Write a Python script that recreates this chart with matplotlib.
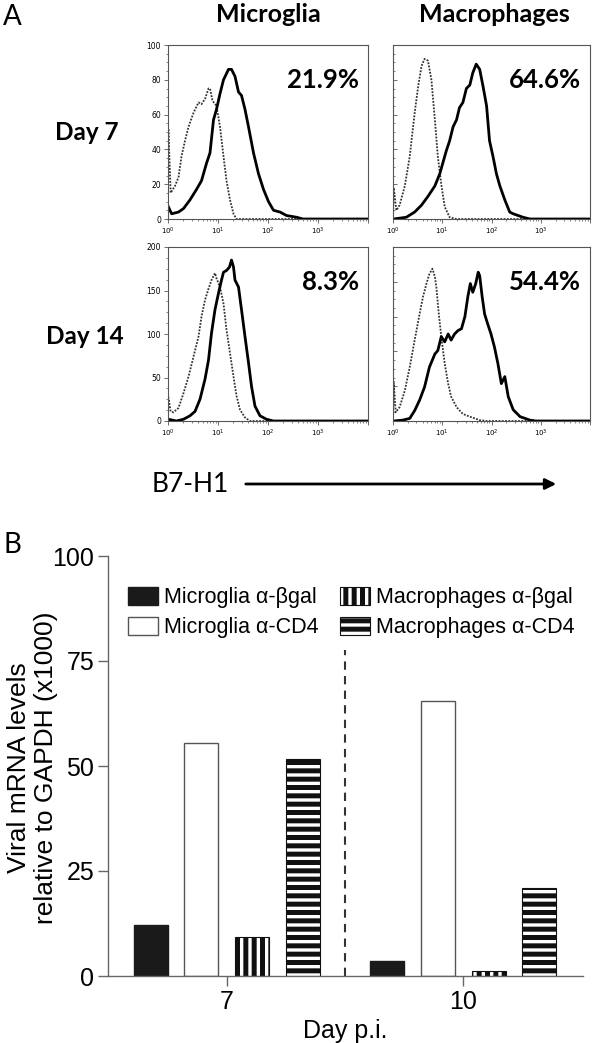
import matplotlib
matplotlib.use('Agg')
import matplotlib.pyplot as plt
import numpy as np
from matplotlib.ticker import FixedLocator, NullFormatter, MultipleLocator, AutoMinorLocator

plt.rcParams['hatch.linewidth'] = 3.6

# ---- panel A: flow histograms (x = log10 fluorescence, y = counts) ----
# dotted = control, solid = B7-H1 stain
mg7_ctrl_x = [0.0, 0.007, 0.053, 0.14, 0.21, 0.27, 0.34, 0.41, 0.51, 0.61, 0.67, 0.74, 0.81, 0.84,
              0.89, 0.97, 1.04, 1.11, 1.17, 1.24, 1.31, 1.37, 4.0]
mg7_ctrl_y = [0, 52, 15, 19, 24, 36, 45, 53, 61, 67, 66, 69, 75, 75, 68, 65, 53, 36, 22, 11, 3, 0, 0]
mg7_b7_x = [0.007, 0.073, 0.21, 0.31, 0.44, 0.57, 0.67, 0.77, 0.84, 0.91, 0.97, 1.04, 1.11, 1.21,
            1.27, 1.34, 1.41, 1.47, 1.54, 1.61, 1.71, 1.81, 1.91, 2.01, 2.11, 2.24, 2.37, 2.57, 2.7, 4.0]
mg7_b7_y = [7, 3, 4, 6, 11, 17, 22, 32, 38, 57, 63, 72, 80, 86, 86, 82, 73, 71, 63, 53, 38, 26, 17,
            10, 5, 4, 2, 1, 0, 0]

mac7_ctrl_x = [0.0, 0.014, 0.068, 0.135, 0.24, 0.34, 0.44, 0.51, 0.58, 0.64, 0.71, 0.78, 0.85, 0.91,
               0.98, 1.05, 1.15, 1.29, 4.0]
mac7_ctrl_y = [0, 18, 5, 8, 19, 36, 61, 76, 88, 92, 91, 80, 57, 36, 20, 7, 1, 0, 0]
mac7_b7_x = [0.014, 0.27, 0.44, 0.58, 0.71, 0.85, 0.95, 1.02, 1.08, 1.15, 1.22, 1.29, 1.35, 1.42,
             1.49, 1.56, 1.62, 1.69, 1.76, 1.83, 1.90, 1.96, 2.03, 2.10, 2.17, 2.27, 2.37, 2.44,
             2.64, 2.78, 4.0]
mac7_b7_y = [0, 1, 4, 8, 13, 19, 26, 33, 39, 45, 53, 57, 64, 67, 75, 77, 84, 89, 86, 76, 65, 45,
             36, 26, 19, 11, 4, 3, 1, 0, 0]

mg14_ctrl_x = [0.0, 0.007, 0.053, 0.107, 0.21, 0.31, 0.41, 0.51, 0.61, 0.67, 0.74, 0.81, 0.87, 0.94,
               0.97, 1.04, 1.11, 1.17, 1.24, 1.31, 1.37, 1.44, 1.54, 1.64, 4.0]
mg14_ctrl_y = [0, 27, 11, 10, 15, 32, 51, 74, 97, 120, 139, 152, 162, 170, 164, 154, 135, 105, 78,
               51, 29, 13, 4, 0, 0]
mg14_b7_x = [0.007, 0.17, 0.31, 0.44, 0.54, 0.64, 0.74, 0.81, 0.87, 0.94, 1.01, 1.07, 1.11, 1.17,
             1.23, 1.27, 1.31, 1.34, 1.41, 1.47, 1.54, 1.61, 1.67, 1.74, 1.84, 1.97, 2.11, 4.0]
mg14_b7_y = [2, 0, 2, 6, 11, 25, 48, 70, 101, 128, 147, 162, 171, 173, 177, 185, 177, 162, 154,
             128, 97, 67, 40, 17, 6, 2, 0, 0]

mac14_ctrl_x = [0.0, 0.014, 0.054, 0.135, 0.24, 0.34, 0.44, 0.54, 0.61, 0.68, 0.74, 0.80, 0.85,
                0.88, 0.93, 0.98, 1.05, 1.12, 1.18, 1.29, 1.42, 1.56, 1.76, 1.90, 4.0]
mac14_ctrl_y = [0, 45, 10, 16, 35, 62, 93, 123, 143, 158, 169, 175, 166, 154, 123, 97, 66, 43, 28,
                16, 8, 5, 1, 0, 0]
mac14_b7_x = [0.014, 0.20, 0.34, 0.44, 0.54, 0.64, 0.74, 0.85, 0.91, 0.98, 1.05, 1.12, 1.18, 1.25,
              1.32, 1.39, 1.46, 1.52, 1.57, 1.62, 1.68, 1.73, 1.76, 1.81, 1.86, 1.92, 1.99, 2.06,
              2.13, 2.20, 2.27, 2.34, 2.44, 2.58, 2.78, 2.9, 4.0]
mac14_b7_y = [0, 1, 3, 12, 24, 39, 62, 77, 81, 97, 91, 100, 93, 100, 104, 106, 120, 143, 158, 148,
              158, 171, 167, 143, 123, 112, 100, 85, 66, 43, 51, 28, 13, 5, 1, 0, 0]

percents = ['21.9%', '64.6%', '8.3%', '54.4%']

# ---- panel B: viral mRNA bars ----
days = ['7', '10']
series_labels = ['Microglia α-βgal', 'Microglia α-CD4', 'Macrophages α-βgal', 'Macrophages α-CD4']
mg_bgal = [12.2, 3.6]
mg_cd4 = [55.4, 65.4]
mac_bgal = [9.3, 1.3]
mac_cd4 = [51.7, 20.9]
divider_top = 77.6

W, H = 600, 1043
fig = plt.figure(figsize=(W / 100, H / 100), dpi=100)


def fx(px):
    return px / W


def fy(py):
    return 1 - py / H


def hist_ax(left, top, right, bottom, ymax, ystep, ylabels):
    ax = fig.add_axes([fx(left), fy(bottom), fx(right - left), (bottom - top) / H])
    ax.set_xscale('log')
    ax.set_xlim(1, 1e4)
    ax.set_ylim(0, ymax)
    for s in ax.spines.values():
        s.set_color('#555555')
        s.set_linewidth(0.8)
    ax.xaxis.set_major_locator(FixedLocator([1, 10, 100, 1000, 10000]))
    ax.xaxis.set_minor_locator(FixedLocator([m * 10 ** d for d in range(4) for m in range(2, 10)]))
    ax.set_xticklabels([r'$10^{0}$', r'$10^{1}$', r'$10^{2}$', r'$10^{3}$', ''])
    ax.xaxis.set_minor_formatter(NullFormatter())
    ax.tick_params(axis='x', which='major', length=3, width=0.6, color='#555555', labelsize=5, pad=2)
    ax.tick_params(axis='x', which='minor', length=1.5, width=0.5, color='#555555')
    ax.yaxis.set_major_locator(MultipleLocator(ystep))
    ax.yaxis.set_minor_locator(AutoMinorLocator(4))
    if ylabels:
        ax.tick_params(axis='y', which='major', direction='out', length=3, width=0.6,
                       color='#555555', labelsize=5.5, pad=2)
        ax.tick_params(axis='y', which='minor', direction='out', length=1.5, width=0.5, color='#555555')
    else:
        ax.tick_params(axis='y', which='major', direction='in', length=3, width=0.6,
                       color='#555555', labelleft=False)
        ax.tick_params(axis='y', which='minor', direction='in', length=1.5, width=0.5, color='#555555')
    return ax


panels = [
    ((168, 45, 368, 219), 100, 20, True, mg7_ctrl_x, mg7_ctrl_y, mg7_b7_x, mg7_b7_y),
    ((393, 45, 590, 219), 100, 20, False, mac7_ctrl_x, mac7_ctrl_y, mac7_b7_x, mac7_b7_y),
    ((168, 247, 368, 421), 200, 50, True, mg14_ctrl_x, mg14_ctrl_y, mg14_b7_x, mg14_b7_y),
    ((393, 247, 590, 421), 200, 40, False, mac14_ctrl_x, mac14_ctrl_y, mac14_b7_x, mac14_b7_y),
]
for (box, ymax, ystep, ylab, cx, cy, bx, by), pct in zip(panels, percents):
    ax = hist_ax(*box, ymax, ystep, ylab)
    ax.plot(10 ** np.array(cx), cy, color='#333333', lw=1.3, ls=(0, (1, 0.8)))
    ax.plot(10 ** np.array(bx), by, color='black', lw=2.0)
    ax.text(0.955, 0.80, pct, transform=ax.transAxes, ha='right', va='center',
            fontsize=18.5, fontweight='bold', family='Lato')

fig.text(fx(12), fy(17), 'A', fontsize=20, family='Lato', ha='center', va='center')
fig.text(fx(268), fy(15), 'Microglia', fontsize=18, fontweight='bold', family='Lato',
         ha='center', va='center')
fig.text(fx(494), fy(15), 'Macrophages', fontsize=18, fontweight='bold', family='Lato',
         ha='center', va='center')
fig.text(fx(87), fy(133), 'Day 7', fontsize=17.5, fontweight='bold', family='Lato', ha='center', va='center')
fig.text(fx(85), fy(336), 'Day 14', fontsize=17.5, fontweight='bold', family='Lato', ha='center', va='center')
fig.text(fx(190), fy(484), 'B7-H1', fontsize=19, family='Lato', ha='center', va='center')
fig.add_artist(matplotlib.patches.FancyArrowPatch((fx(243), fy(484)), (fx(559), fy(484)),
                                                  transform=fig.transFigure, arrowstyle='-|>',
                                                  mutation_scale=16, lw=2, color='black'))
fig.text(fx(12), fy(545), 'B', fontsize=20, family='Lato', ha='center', va='center')

# ---- bar chart ----
axb = fig.add_axes([fx(108), fy(976), fx(583 - 108), (976 - 556) / H])
x = np.arange(len(days))
bw = 0.144
offs = [-0.322, -0.108, 0.108, 0.322]
styles = [
    dict(color='#1a1a1a', edgecolor='#1a1a1a'),
    dict(color='white', edgecolor='#555555', linewidth=1.0),
    dict(color='white', edgecolor='#111111', hatch='||', linewidth=0.8),
    dict(color='white', edgecolor='#111111', hatch='--', linewidth=0.8),
]
for vals, off, st, lab in zip([mg_bgal, mg_cd4, mac_bgal, mac_cd4], offs, styles, series_labels):
    axb.bar(x + off, vals, bw, label=lab, **st)
axb.vlines(0.5, 0, divider_top, colors='#333333', linestyles=(0, (4, 3)), lw=1.5)
axb.set_xlim(-0.504, 1.508)
axb.set_ylim(0, 100)
axb.set_xticks(x)
axb.set_xticklabels(days)
axb.set_yticks([0, 25, 50, 75, 100])
for s in ['top', 'right']:
    axb.spines[s].set_visible(False)
for s in ['left', 'bottom']:
    axb.spines[s].set_color('#666666')
    axb.spines[s].set_linewidth(1.0)
axb.tick_params(axis='both', labelsize=18, color='#666666', width=1.0, length=7, pad=3,
                labelfontfamily='Liberation Sans')
axb.set_xlabel('Day p.i.', fontsize=18, family='Liberation Sans', labelpad=4)
axb.set_ylabel('Viral mRNA levels\nrelative to GAPDH (x1000)', fontsize=19,
               family='Liberation Sans', linespacing=1.15)
axb.yaxis.set_label_coords((58 - 108) / 475, (976 - 768) / 420)
axb.legend(ncol=2, loc='upper left', bbox_to_anchor=(fx(128), fy(587)), bbox_transform=fig.transFigure,
           frameon=False, borderpad=0, borderaxespad=0, handlelength=1.4, handleheight=0.9,
           handletextpad=0.27, columnspacing=1.0, labelspacing=0.4,
           prop={'family': 'Liberation Sans', 'size': 15.5})

fig.savefig('out.png', dpi=100)
